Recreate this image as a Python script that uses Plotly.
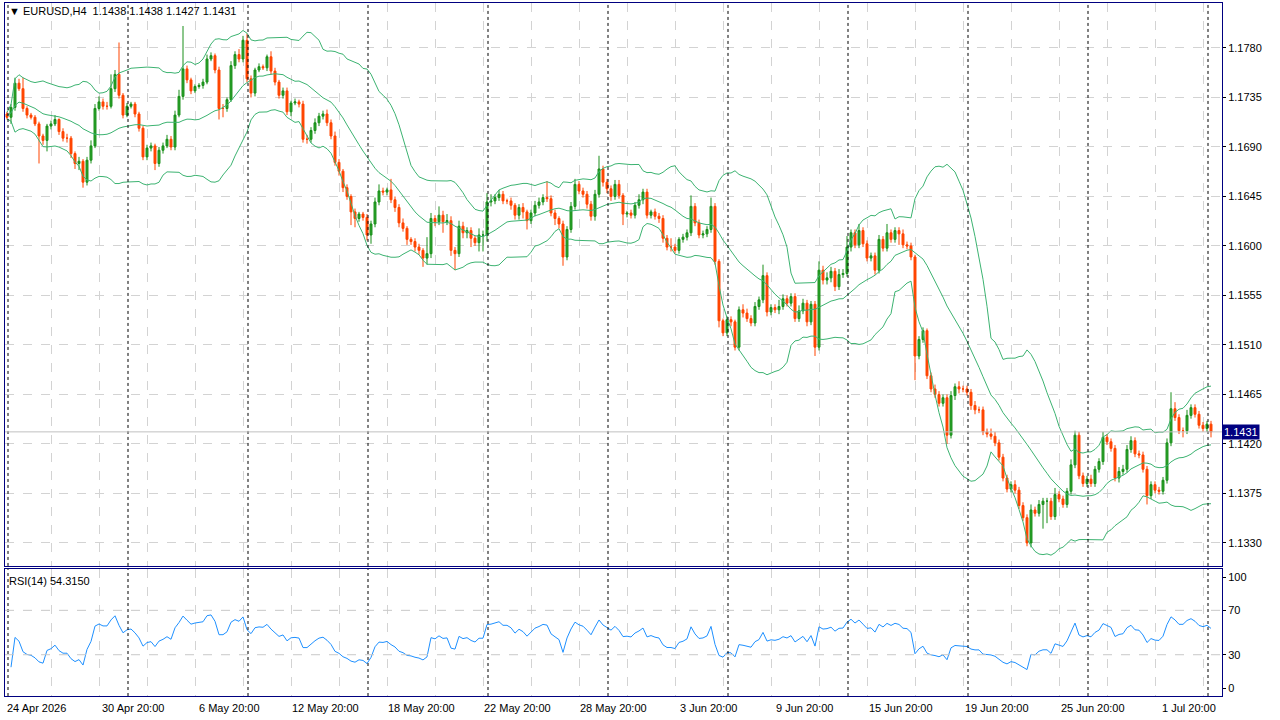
import pandas as pd
import plotly.graph_objects as go
from plotly.subplots import make_subplots

# closes, one per H4 bar
closes = [
    1.1720, 1.1717, 1.1726, 1.1748, 1.1743, 1.1725, 1.1719, 1.1717, 1.1711, 1.1700,
    1.1696, 1.1709, 1.1711, 1.1715, 1.1704, 1.1698, 1.1698, 1.1684, 1.1675, 1.1677,
    1.1658, 1.1678, 1.1691, 1.1725, 1.1731, 1.1727, 1.1727, 1.1743, 1.1756, 1.1737,
    1.1719, 1.1727, 1.1729, 1.1720, 1.1707, 1.1681, 1.1689, 1.1691, 1.1675, 1.1687,
    1.1691, 1.1697, 1.1690, 1.1719, 1.1736, 1.1761, 1.1751, 1.1741, 1.1745, 1.1746,
    1.1749, 1.1770, 1.1773, 1.1760, 1.1725, 1.1725, 1.1733, 1.1764, 1.1774, 1.1770,
    1.1787, 1.1752, 1.1739, 1.1760, 1.1763, 1.1762, 1.1772, 1.1759, 1.1749, 1.1737,
    1.1741, 1.1722, 1.1730, 1.1731, 1.1729, 1.1697, 1.1697,
    1.1705, 1.1712, 1.1718, 1.1720, 1.1712, 1.1700,
    1.1676, 1.1668, 1.1653, 1.1645, 1.1631, 1.1625, 1.1629, 1.1626, 1.1610, 1.1620,
    1.1640, 1.1650, 1.1649, 1.1651, 1.1642, 1.1635, 1.1621, 1.1616, 1.1606, 1.1604,
    1.1599, 1.1596, 1.1589, 1.1593, 1.1625, 1.1622, 1.1628, 1.1622, 1.1623, 1.1596,
    1.1593, 1.1618, 1.1612, 1.1614, 1.1607, 1.1603, 1.1610, 1.1610,
    1.1640, 1.1641, 1.1644, 1.1647, 1.1641, 1.1641, 1.1637, 1.1628, 1.1635, 1.1631,
    1.1623, 1.1630, 1.1637, 1.1640, 1.1644, 1.1643, 1.1630, 1.1625, 1.1620, 1.1590,
    1.1615, 1.1636, 1.1656, 1.1650, 1.1647, 1.1638, 1.1627, 1.1647, 1.1670, 1.1658,
    1.1652,
    1.1645, 1.1656, 1.1646, 1.1629, 1.1630, 1.1628, 1.1637, 1.1642, 1.1649, 1.1628,
    1.1631, 1.1627, 1.1625, 1.1607, 1.1599, 1.1599, 1.1596, 1.1606, 1.1608, 1.1612,
    1.1636, 1.1621, 1.1610, 1.1611, 1.1615, 1.1636, 1.1586, 1.1532, 1.1521, 1.1533,
    1.1531, 1.1508, 1.1542, 1.1539, 1.1534, 1.1530, 1.1545, 1.1551, 1.1573, 1.1540,
    1.1544, 1.1542, 1.1545, 1.1552, 1.1548, 1.1554, 1.1534, 1.1541, 1.1548, 1.1531,
    1.1547, 1.1508, 1.1578, 1.1569, 1.1571, 1.1577, 1.1563, 1.1574, 1.1575, 1.1599,
    1.1612, 1.1601, 1.1614, 1.1602, 1.1589, 1.1591, 1.1578, 1.1606, 1.1598, 1.1612,
    1.1606, 1.1614, 1.1611,
    1.1601, 1.1600, 1.1590, 1.1500, 1.1515, 1.1523, 1.1482, 1.1470, 1.1465, 1.1457,
    1.1462, 1.1428, 1.1464, 1.1472, 1.1470, 1.1470, 1.1467, 1.1455, 1.1451, 1.1451,
    1.1431, 1.1429, 1.1427, 1.1421, 1.1408, 1.1389, 1.1379, 1.1383, 1.1378, 1.1364,
    1.1353, 1.1330, 1.1360, 1.1357, 1.1365, 1.1368, 1.1368, 1.1354, 1.1374, 1.1370,
    1.1365, 1.1377, 1.1401, 1.1428, 1.1391, 1.1384, 1.1388, 1.1384, 1.1397, 1.1404,
    1.1426, 1.1422, 1.1416, 1.1389, 1.1395, 1.1397, 1.1415, 1.1423, 1.1411, 1.1410,
    1.1397, 1.1373, 1.1383, 1.1378, 1.1377, 1.1387, 1.1421, 1.1452, 1.1444, 1.1432,
    1.1432, 1.1446, 1.1453, 1.1447, 1.1437, 1.1434, 1.1438, 1.1431,
]

# upper / lower wick length in pips beyond the body
wick_hi = [
    3, 2, 3, 5, 4, 10, 2, 2, 2, 2, 2, 2, 3, 4, 1, 3, 4, 2, 2, 4,
    2, 3, 5, 4, 5, 3, 4, 13, 4, 29, 2, 3, 2, 2, 2, 2, 3, 3, 2, 3,
    3, 4, 3, 4, 6, 39, 3, 2, 2, 2, 3, 4, 3, 2, 3, 4, 2, 4, 3, 5,
    4, 6, 3, 2, 3, 2, 2, 5, 3, 2, 3, 3, 2, 3, 2, 3, 4,
    3, 4, 3, 3, 4, 3,
    4, 3, 2, 3, 2, 3, 2, 2, 3, 3, 4, 6, 3, 2, 10, 3, 3, 4, 2, 2,
    3, 3, 2, 15, 5, 3, 8, 4, 6, 4, 3, 5, 4, 3, 3, 2, 6, 4,
    8, 6, 3, 4, 3, 2, 3, 2, 3, 4, 2, 3, 4, 4, 3, 15, 3, 3, 2, 3,
    3, 4, 5, 3, 3, 3, 3, 4, 12, 3, 3,
    3, 4, 4, 2, 2, 3, 3, 5, 3, 3, 2, 3, 3, 3, 3, 8, 3, 2, 3, 3,
    10, 3, 3, 3, 3, 8, 3, 2, 2, 3, 3, 2, 3, 5, 4, 3, 4, 3, 10, 3,
    3, 3, 6, 4, 3, 3, 3, 5, 4, 3, 3, 3, 8, 4, 5, 4, 3, 5, 4, 10,
    3, 3, 6, 3, 3, 3, 3, 4, 3, 8, 3, 3, 3,
    4, 3, 3, 2, 3, 3, 2, 3, 4, 3, 3, 3, 4, 3, 5, 3, 3, 3, 4, 3,
    3, 3, 5, 4, 3, 3, 3, 3, 4, 3, 3, 3, 5, 3, 4, 3, 3, 3, 6, 3,
    3, 3, 5, 4, 3, 3, 3, 4, 3, 3, 5, 3, 3, 3, 4, 4, 4, 4, 3, 3,
    3, 3, 3, 3, 3, 3, 4, 15, 6, 3, 3, 5, 3, 3, 3, 3, 3, 3,
]
wick_lo = [
    3, 2, 6, 3, 2, 3, 3, 2, 2, 25, 4, 10, 3, 2, 3, 3, 4, 4, 5, 6,
    5, 3, 3, 2, 2, 3, 3, 2, 3, 3, 3, 2, 2, 3, 3, 3, 3, 3, 6, 3,
    3, 2, 3, 3, 2, 3, 3, 3, 2, 2, 3, 2, 2, 3, 10, 8, 3, 2, 3, 3,
    3, 3, 4, 3, 2, 2, 3, 3, 3, 3, 3, 3, 4, 2, 3, 3, 4,
    3, 3, 3, 3, 3, 3,
    3, 4, 4, 3, 12, 8, 3, 3, 5, 8, 3, 3, 3, 3, 3, 4, 4, 3, 5, 3,
    4, 4, 8, 6, 4, 4, 3, 10, 3, 5, 15, 3, 5, 5, 8, 3, 8, 15,
    6, 4, 3, 3, 3, 3, 4, 4, 4, 6, 8, 3, 3, 3, 3, 3, 3, 6, 4, 8,
    3, 3, 3, 3, 3, 4, 4, 4, 3, 4, 4,
    4, 3, 3, 10, 3, 3, 3, 3, 4, 3, 3, 3, 4, 4, 3, 4, 3, 3, 3, 3,
    3, 3, 3, 3, 3, 3, 3, 6, 3, 3, 4, 3, 3, 4, 3, 3, 3, 3, 3, 4,
    3, 3, 4, 3, 3, 3, 3, 3, 3, 4, 3, 8, 3, 4, 4, 4, 4, 3, 3, 3,
    4, 3, 3, 3, 3, 3, 4, 3, 3, 3, 3, 3, 10,
    3, 3, 3, 22, 3, 3, 3, 3, 3, 3, 3, 8, 3, 4, 4, 3, 3, 4, 4, 3,
    3, 3, 3, 3, 3, 3, 3, 3, 3, 3, 3, 3, 4, 3, 3, 22, 20, 3, 3, 3,
    3, 3, 3, 3, 3, 3, 3, 3, 3, 3, 3, 3, 3, 3, 4, 3, 3, 3, 3, 3,
    3, 8, 3, 3, 3, 3, 3, 3, 3, 3, 6, 3, 3, 3, 3, 3, 3, 5,
]

time_labels = ["24 Apr 2026", "30 Apr 20:00", "6 May 20:00", "12 May 20:00",
               "18 May 20:00", "22 May 20:00", "28 May 20:00", "3 Jun 20:00",
               "9 Jun 20:00", "15 Jun 20:00", "19 Jun 20:00", "25 Jun 20:00",
               "1 Jul 20:00"]
label_bars = [0, 32, 56, 80, 104, 128, 152, 176, 200, 224, 248, 272, 296]
separator_bars = [1, 31, 61, 91, 121, 151, 181, 211, 241, 271, 301]
price_ticks = [1.1330, 1.1375, 1.1420, 1.1465, 1.1510, 1.1555, 1.1600,
               1.1645, 1.1690, 1.1735, 1.1780]

n = len(closes)
x = list(range(n))
opens = [1.1715] + closes[:-1]
highs = [max(o, c) + h * 0.0001 for o, c, h in zip(opens, closes, wick_hi)]
lows = [min(o, c) - l * 0.0001 for o, c, l in zip(opens, closes, wick_lo)]

s = pd.Series(closes)
mid = s.rolling(20, min_periods=2).mean()
sd = s.rolling(20, min_periods=2).std(ddof=0)
up, dn = mid + 2 * sd, mid - 2 * sd

d = s.diff()
gain = d.clip(lower=0).ewm(alpha=1 / 14, adjust=False).mean()
loss = (-d.clip(upper=0)).ewm(alpha=1 / 14, adjust=False).mean()
rsi = 100 - 100 / (1 + gain / loss)
rsi[:2] = None

fig = make_subplots(rows=2, cols=1, shared_xaxes=True, vertical_spacing=0.0045,
                    row_heights=[0.816, 0.184])

fig.add_trace(go.Candlestick(
    x=x, open=opens, high=highs, low=lows, close=closes,
    increasing=dict(line=dict(color="#1a8f1a", width=1), fillcolor="#2ca52c"),
    decreasing=dict(line=dict(color="#ff4500", width=1), fillcolor="#ff4500"),
    whiskerwidth=0, showlegend=False), row=1, col=1)
for band in (up, mid, dn):
    fig.add_trace(go.Scatter(x=x, y=band, mode="lines", showlegend=False,
                             line=dict(color="#3cb371", width=1)), row=1, col=1)
fig.add_trace(go.Scatter(x=x, y=rsi, mode="lines", showlegend=False,
                         line=dict(color="#1e90ff", width=1)), row=2, col=1)

font = dict(family="Liberation Sans, Arial", size=11, color="black")
axis_line = dict(showline=True, linecolor="#000080", linewidth=1, mirror=True)
fig.update_xaxes(range=[0.5, 304.75], rangeslider_visible=False,
                 tick0=0, dtick=12, showgrid=True, gridcolor="#d3d3d3",
                 griddash="dash", gridwidth=1, showticklabels=False,
                 zeroline=False, **axis_line)
fig.update_yaxes(side="right", zeroline=False, tickfont=font, ticks="outside",
                 ticklen=3, tickcolor="black", **axis_line)
fig.update_yaxes(row=1, col=1, range=[1.13091, 1.18209], tickvals=price_ticks,
                 tickformat=".4f", showgrid=True, gridcolor="#d3d3d3",
                 griddash="dash")
fig.update_yaxes(row=2, col=1, range=[-7.2, 107.2], tickvals=[0, 30, 70, 100],
                 showgrid=False)

shapes = []
for b in separator_bars:
    for yref in ("y domain", "y2 domain"):
        shapes.append(dict(type="line", xref="x", yref=yref, x0=b + 0.25,
                           x1=b + 0.25, y0=0, y1=1,
                           line=dict(color="black", width=1, dash="dot")))
for lvl in (30, 70):
    shapes.append(dict(type="line", xref="x domain", yref="y2", x0=0, x1=1,
                       y0=lvl, y1=lvl,
                       line=dict(color="#c8c8c8", width=1, dash="dash")))
shapes.append(dict(type="line", xref="x domain", yref="y", x0=0, x1=1,
                   y0=closes[-1], y1=closes[-1],
                   line=dict(color="#c0c0c0", width=1)))

ann = [
    dict(xref="paper", yref="paper", x=0.002, y=1.0, xanchor="left",
         yanchor="top", showarrow=False, font=font,
         text="▼ EURUSD,H4  1.1438 1.1438 1.1427 1.1431"),
    dict(xref="paper", yref="y2 domain", x=0.002, y=0.97, xanchor="left",
         yanchor="top", showarrow=False, font=font, text="RSI(14) 54.3150"),
    dict(xref="paper", yref="y", x=1.0, y=closes[-1], xanchor="left",
         showarrow=False, bgcolor="#000080", borderpad=1,
         font=dict(family="Liberation Sans, Arial", size=11, color="white"),
         text="%.4f" % closes[-1]),
    dict(xref="x", yref="paper", x=0.5, y=-0.006, xanchor="left", yanchor="top",
         showarrow=False, font=font, text=time_labels[0]),
]
for lab, b in zip(time_labels[1:], label_bars[1:]):
    ann.append(dict(xref="x", yref="paper", x=b + 0.5, y=-0.006,
                    xanchor="center", yanchor="top", showarrow=False,
                    font=font, text=lab))

fig.update_layout(width=1280, height=720,
                  margin=dict(l=5, r=58, t=3, b=24, autoexpand=False),
                  paper_bgcolor="white", plot_bgcolor="white",
                  shapes=shapes, annotations=ann, font=font)
fig.write_html("out.html", config={"displayModeBar": False},
               post_script="document.body.style.margin='0';"
                           "document.body.style.overflow='hidden';")
